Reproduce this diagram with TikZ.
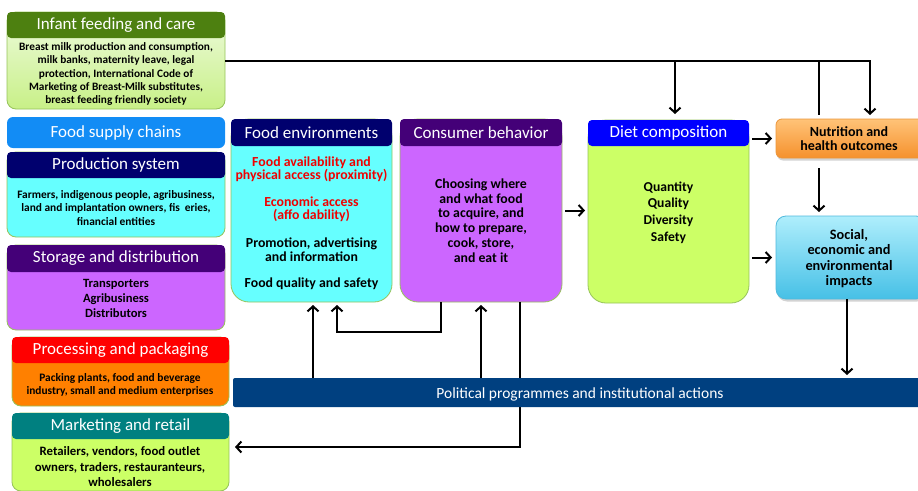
\documentclass[tikz,border=0pt]{standalone}
\usepackage{fontspec}
\setmainfont{Carlito}
\usetikzlibrary{arrows.meta,shadows}
\definecolor{boxedge}{RGB}{150,195,90}
\definecolor{ifghead}{RGB}{77,128,16}
\definecolor{ifgtop}{RGB}{238,251,222}
\definecolor{ifgbot}{RGB}{200,240,135}
\definecolor{fscblue}{RGB}{18,140,245}
\definecolor{navyhead}{RGB}{0,0,110}
\definecolor{cyanbody}{RGB}{102,255,255}
\definecolor{purphead}{RGB}{68,0,120}
\definecolor{purpbody}{RGB}{204,102,255}
\definecolor{redhead}{RGB}{255,0,0}
\definecolor{orangebody}{RGB}{255,128,0}
\definecolor{tealhead}{RGB}{0,128,128}
\definecolor{limebody}{RGB}{204,255,102}
\definecolor{bluehead}{RGB}{0,0,255}
\definecolor{nuttop}{RGB}{255,195,120}
\definecolor{nutbot}{RGB}{245,145,45}
\definecolor{nutedge}{RGB}{235,150,60}
\definecolor{soctop}{RGB}{175,238,252}
\definecolor{socbot}{RGB}{70,192,230}
\definecolor{socedge}{RGB}{80,185,220}
\definecolor{barblue}{RGB}{0,64,128}
\definecolor{redtext}{RGB}{240,0,0}
\begin{document}
\begin{tikzpicture}[x=1pt,y=-1pt,
  bodybox/.style={draw=boxedge, line width=0.8pt, inner sep=0pt, outer sep=0pt, anchor=north west},
  headbox/.style={inner sep=0pt, outer sep=0pt, anchor=north west, rounded corners=4pt, text=white, font=\fontsize{17}{19}\selectfont},
  bodytext/.style={align=center, inner sep=0pt, font=\bfseries\fontsize{11.3}{13.3}\selectfont},
  ln/.style={line width=2pt, draw=black},
  arr/.style={ln, -{Straight Barb[length=5pt,width=11pt]}},
  shd/.style={drop shadow={opacity=0.35, shadow xshift=1pt, shadow yshift=-2.5pt}},
]
\useasboundingbox (0,0) rectangle (918,490);

% ---------- left column ----------
\node[bodybox, rounded corners=9pt, top color=ifgtop, bottom color=ifgbot, minimum width=218pt, minimum height=97pt] (ifc) at (7,12) {};
\node[headbox, fill=ifghead, minimum width=218pt, minimum height=26pt] (ifch) at (7,12) {Infant feeding and care};
\node[bodytext] (ift) at (116,74) {Breast milk production and consumption,\\ milk banks, maternity leave, legal\\ protection, International Code of\\ Marketing of Breast-Milk substitutes,\\ breast feeding friendly society};

\node[headbox, fill=fscblue, rounded corners=6pt, minimum width=218pt, minimum height=31pt] (fsc) at (7,117) {Food supply chains};

\node[bodybox, rounded corners=9pt, fill=cyanbody, minimum width=218pt, minimum height=85pt] (ps) at (7,152) {};
\node[headbox, fill=navyhead, minimum width=218pt, minimum height=26pt] (psh) at (7,152) {Production system};
\node[bodytext, font=\bfseries\fontsize{11.4}{13.5}\selectfont] (pst) at (116,208) {Farmers, indigenous people, agribusiness,\\ land and implantation owners, fis\hspace{5pt}eries,\\ financial entities};

\node[bodybox, rounded corners=9pt, fill=purpbody, minimum width=218pt, minimum height=85pt] (sd) at (7,245) {};
\node[headbox, fill=purphead, minimum width=218pt, minimum height=27pt] (sdh) at (7,245) {Storage and distribution};
\node[bodytext, font=\bfseries\fontsize{12.6}{15}\selectfont] (sdt) at (116,298) {Transporters\\ Agribusiness\\ Distributors};

\node[bodybox, rounded corners=9pt, fill=orangebody, minimum width=217pt, minimum height=69pt] (pp) at (12,337) {};
\node[headbox, fill=redhead, minimum width=217pt, minimum height=26pt] (pph) at (12,337) {Processing and packaging};
\node[bodytext, font=\bfseries\fontsize{11.4}{13.3}\selectfont] (ppt) at (120,385) {Packing plants, food and beverage\\ industry, small and medium enterprises};

\node[bodybox, rounded corners=9pt, fill=limebody, minimum width=217pt, minimum height=78pt] (mr) at (12,413) {};
\node[headbox, fill=tealhead, minimum width=217pt, minimum height=26pt] (mrh) at (12,413) {Marketing and retail};
\node[bodytext, font=\bfseries\fontsize{12.8}{15.5}\selectfont] (mrt) at (120,467) {Retailers, vendors, food outlet\\ owners, traders, restauranteurs,\\ wholesalers};

% ---------- middle columns ----------
\node[bodybox, rounded corners=18pt, fill=cyanbody, minimum width=161pt, minimum height=183pt] (fe) at (231,119) {};
\node[headbox, fill=navyhead, minimum width=161pt, minimum height=27pt] (feh) at (231,119) {Food environments};
\node[bodytext, text=redtext, font=\bfseries\fontsize{13.8}{13}\selectfont] (fe1) at (311.5,169.5) {Food availability and\\ physical access (proximity)};
\node[bodytext, text=redtext, font=\bfseries\fontsize{13.8}{13}\selectfont] (fe2) at (311.5,209) {Economic access\\ (affo\hspace{3pt}dability)};
\node[bodytext, font=\bfseries\fontsize{13.8}{14}\selectfont] (fe3) at (311.5,250) {Promotion, advertising\\ and information};
\node[bodytext, font=\bfseries\fontsize{13.8}{14}\selectfont] (fe4) at (311.5,284) {Food quality and safety};

\node[bodybox, rounded corners=18pt, fill=purpbody, minimum width=162pt, minimum height=183pt] (cb) at (400,119) {};
\node[headbox, fill=purphead, minimum width=162pt, minimum height=27pt] (cbh) at (400,119) {Consumer behavior};
\node[bodytext, font=\bfseries\fontsize{13.8}{14.8}\selectfont] (cbt) at (481,220.5) {Choosing where\\ and what food\\ to acquire, and\\ how to prepare,\\ cook, store,\\ and eat it};

\node[bodybox, rounded corners=18pt, fill=limebody, minimum width=161pt, minimum height=183pt] (dc) at (588,120) {};
\node[headbox, fill=bluehead, minimum width=161pt, minimum height=26pt] (dch) at (588,120) {Diet composition};
\node[bodytext, font=\bfseries\fontsize{13.6}{16.6}\selectfont] (dct) at (668.5,212.5) {Quantity\\ Quality\\ Diversity\\ Safety};

% ---------- right column ----------
\node[bodybox, draw=nutedge, rounded corners=6pt, shd, top color=nuttop, bottom color=nutbot, minimum width=150pt, minimum height=39pt] (nut) at (776,119) {};
\node[bodytext, font=\bfseries\fontsize{14}{14}\selectfont] (nutt) at (849,139) {Nutrition and\\ health outcomes};

\node[bodybox, draw=socedge, rounded corners=10pt, shd, top color=soctop, bottom color=socbot, minimum width=150pt, minimum height=83pt] (soc) at (776,216) {};
\node[bodytext, font=\bfseries\fontsize{14.3}{15.3}\selectfont] (soct) at (849,258.5) {Social,\\ economic and\\ environmental\\ impacts};

% ---------- connectors ----------
\coordinate (tc) at (870,61);
\coordinate (b1) at (675,61);
\coordinate (b2) at (819,61);
\coordinate (b2e) at (819,115);
\draw[arr, shorten >=4pt] (ifc.east |- tc) -- (tc) -- (tc |- nut.north);
\draw[arr, shorten >=6pt] (b1) -- (b1 |- dc.north);
\draw[ln] (b2) -- (b2e);
\draw[arr, shorten <=10pt, shorten >=4pt] (nut.south -| b2) -- (soc.north -| b2);

\draw[arr, shorten <=3pt, shorten >=3pt] (cb.east) -- (cb.east -| dc.west);
\draw[arr, shorten <=3pt, shorten >=4pt] (nut.west -| dc.east) -- (nut.west);
\draw[arr, shorten <=3pt, shorten >=4pt] (soc.west -| dc.east) -- (soc.west);

\coordinate (q1) at (313,379);
\coordinate (p1) at (441,332);
\coordinate (p2) at (337,332);
\coordinate (q3) at (481,379);
\coordinate (q4) at (520,447);
\coordinate (q5) at (847,375);
\draw[arr, shorten >=3pt] (q1) -- (q1 |- fe.south);
\draw[arr, shorten >=3pt] (p1 |- cb.south) -- (p1) -- (p2) -- (p2 |- fe.south);
\draw[arr, shorten >=3pt] (q3) -- (q3 |- cb.south);
\draw[arr, shorten >=6pt] (q4 |- cb.south) -- (q4) -- (q4 -| mr.east);
\draw[arr] (q5 |- soc.south) -- (q5);

% ---------- policy bar ----------
\node[inner sep=0pt, outer sep=0pt, anchor=north west, fill=barblue, rounded corners=2pt, minimum width=700pt, minimum height=29pt] (bar) at (233,378) {};
\node[inner sep=0pt, text=white, font=\fontsize{15.5}{17}\selectfont] (bart) at (580,394) {Political programmes and institutional actions};
\end{tikzpicture}
\end{document}
